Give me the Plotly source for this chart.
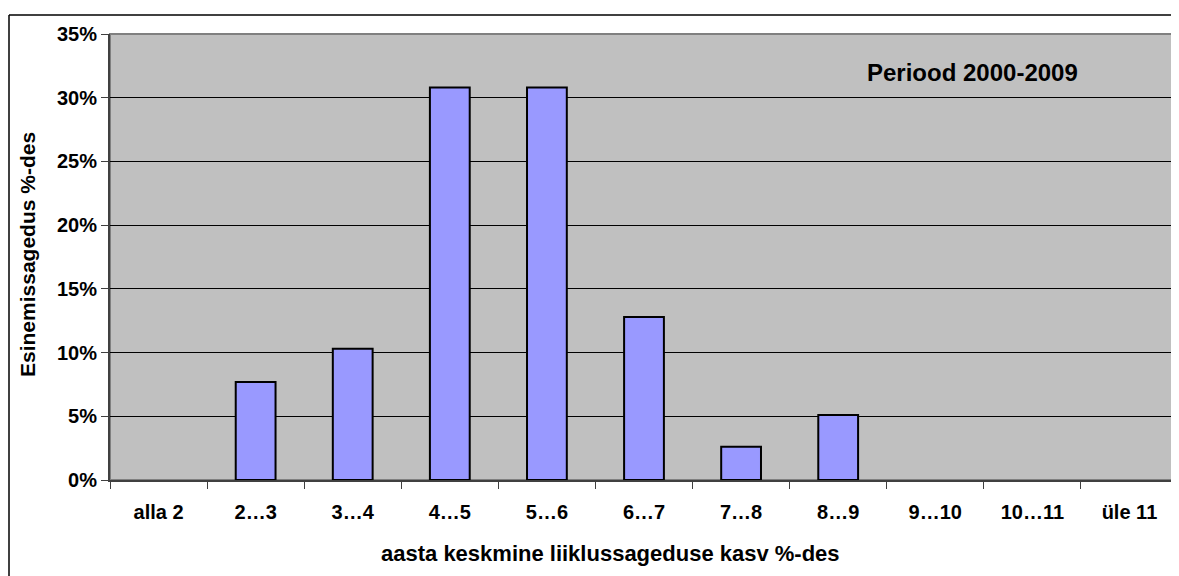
import plotly.graph_objects as go

# ── Data ──────────────────────────────────────────────────────────────────────
categories = ["alla 2", "2…3", "3…4", "4…5", "5…6", "6…7", "7…8", "8…9", "9…10", "10…11", "üle 11"]
shares = [None, 0.077, 0.103, 0.308, 0.308, 0.128, 0.026, 0.051, None, None, None]
y_ticks = [0, 0.05, 0.10, 0.15, 0.20, 0.25, 0.30, 0.35]
y_tick_labels = ["0%", "5%", "10%", "15%", "20%", "25%", "30%", "35%"]

# ── Style ─────────────────────────────────────────────────────────────────────
FONT = "Arial, Liberation Sans, sans-serif"
OFF = 8  # page body margin
W, H = 1179 - OFF, 576 - OFF
M = dict(l=110 - OFF, r=1, t=34 - OFF, b=96)
PW = W - M["l"] - M["r"]
PH = H - M["t"] - M["b"]


def px_x(x):
    return (x - OFF - M["l"]) / PW


def px_y(y):
    return (H - M["b"] - (y - OFF)) / PH


fig = go.Figure(go.Bar(
    x=categories,
    y=shares,
    marker=dict(color="#9999FF", line=dict(color="black", width=2)),
    hoverinfo="skip",
))

fig.update_layout(
    width=W,
    height=H,
    margin=M,
    paper_bgcolor="white",
    plot_bgcolor="#C0C0C0",
    font=dict(family=FONT, size=20, color="black"),
    bargap=0.59,
    showlegend=False,
    xaxis=dict(
        type="category",
        tickson="boundaries",
        ticks="outside",
        ticklen=7,
        tickcolor="#404040",
        showline=True,
        linecolor="#404040",
        linewidth=2,
        showgrid=False,
        tickfont=dict(family=FONT, size=20, weight="bold"),
        ticklabelstandoff=13,
        range=[-0.5, 10.5],
    ),
    yaxis=dict(
        range=[0, 0.35],
        tickvals=y_ticks,
        ticktext=y_tick_labels,
        ticks="outside",
        ticklen=7,
        tickcolor="#404040",
        showline=True,
        linecolor="#404040",
        linewidth=2,
        showgrid=True,
        gridcolor="black",
        gridwidth=1,
        zeroline=False,
        tickfont=dict(family=FONT, size=20, weight="bold"),
    ),
    shapes=[
        # plot area frame (top/right)
        dict(type="rect", xref="paper", yref="paper", x0=0, x1=1, y0=0, y1=1,
             line=dict(color="#808080", width=2), layer="below"),
        # outer chart border (top and left edges; the rest runs off the page)
        dict(type="line", xref="paper", yref="paper",
             x0=px_x(9), x1=px_x(1200), y0=px_y(15), y1=px_y(15),
             line=dict(color="black", width=1.5)),
        dict(type="line", xref="paper", yref="paper",
             x0=px_x(9), x1=px_x(9), y0=px_y(15), y1=px_y(600),
             line=dict(color="black", width=1.5)),
    ],
    annotations=[
        dict(text="<b>Periood 2000-2009</b>", xref="paper", yref="paper",
             x=px_x(1080), y=px_y(72), xanchor="right", yanchor="middle",
             showarrow=False, font=dict(family=FONT, size=24)),
        dict(text="<b>aasta keskmine liiklussageduse kasv %-des</b>", xref="paper", yref="paper",
             x=px_x(610), y=px_y(553), xanchor="center", yanchor="middle",
             showarrow=False, font=dict(family=FONT, size=22)),
        dict(text="<b>Esinemissagedus %-des</b>", xref="paper", yref="paper",
             x=px_x(27), y=px_y(255), xanchor="center", yanchor="middle",
             textangle=-90, showarrow=False, font=dict(family=FONT, size=21)),
    ],
)

fig.write_html("out.html", config={"displayModeBar": False})
